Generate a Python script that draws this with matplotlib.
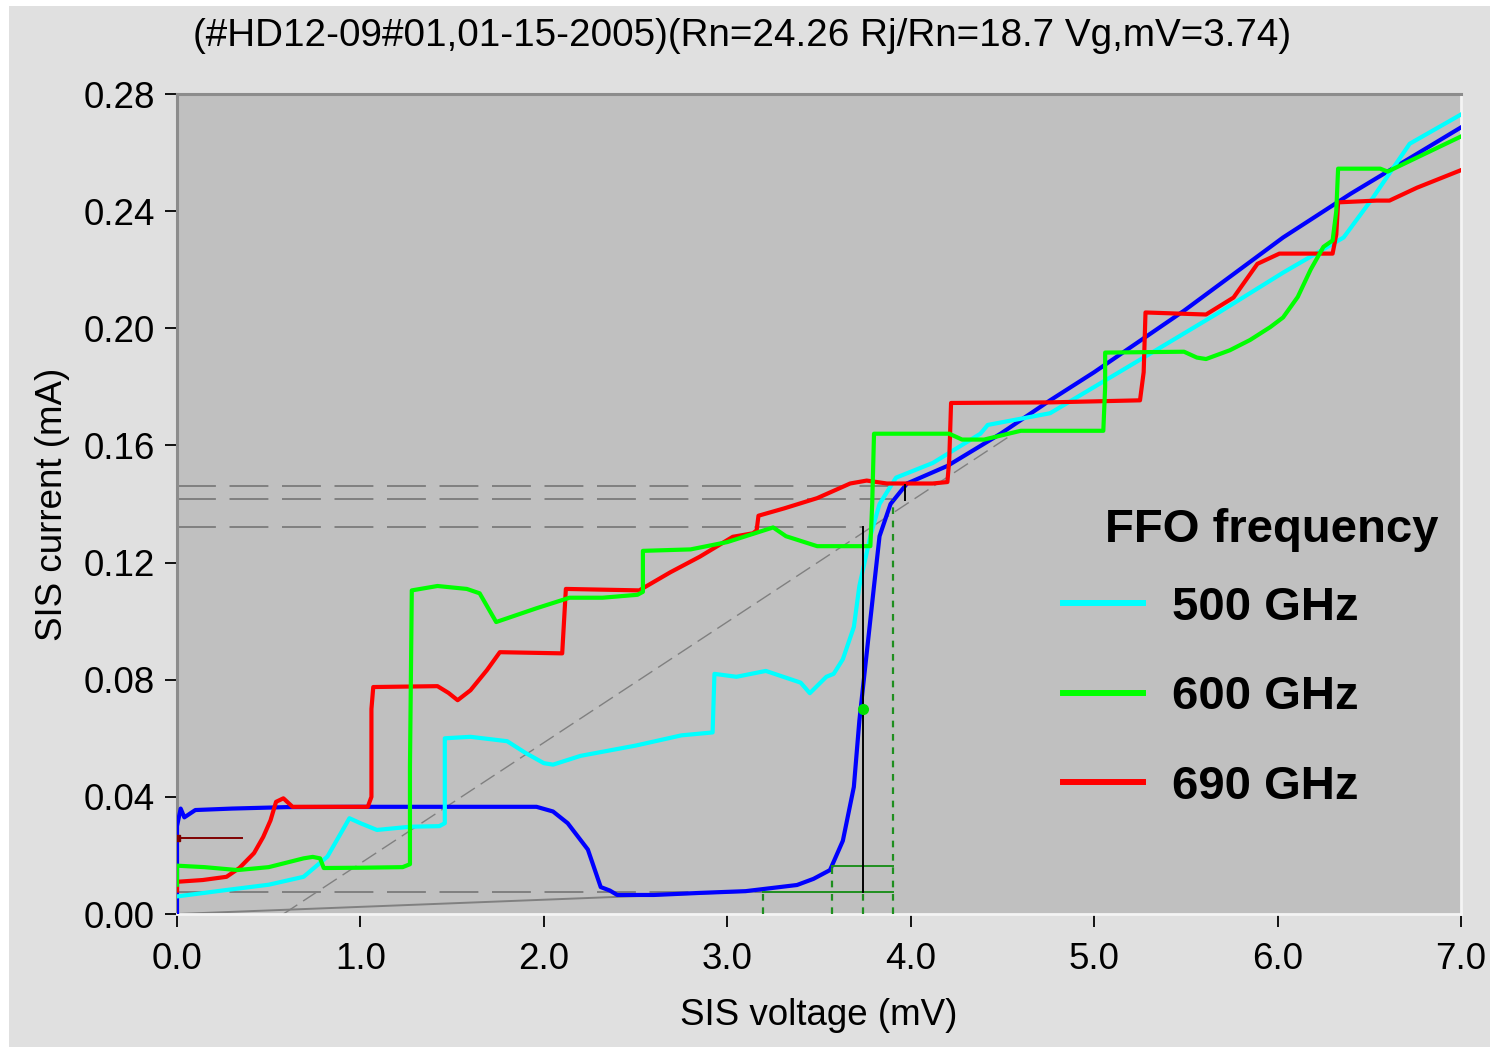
import matplotlib
matplotlib.use("Agg")
import matplotlib.pyplot as plt
from matplotlib.patches import Rectangle

plt.rcParams['font.family'] = ['Liberation Sans', 'DejaVu Sans']

# ---------------- data ----------------
title = "(#HD12-09#01,01-15-2005)(Rn=24.26 Rj/Rn=18.7 Vg,mV=3.74)"
xlabel = "SIS voltage (mV)"
ylabel = "SIS current (mA)"
legend_title = "FFO frequency"
series_labels = ["500 GHz", "600 GHz", "690 GHz"]
xticks = [0.0, 1.0, 2.0, 3.0, 4.0, 5.0, 6.0, 7.0]
yticks = [0.00, 0.04, 0.08, 0.12, 0.16, 0.20, 0.24, 0.28]

# unpumped IV curve (blue)
v_dc = [0.0, 0.0, 0.02, 0.04, 0.1, 0.3, 0.6, 1.0, 1.5, 1.96, 2.05, 2.13, 2.24, 2.31,
        2.36, 2.40, 2.6, 2.85, 3.1, 3.38, 3.47, 3.56, 3.63, 3.69, 3.72, 3.76, 3.80,
        3.83, 3.89, 3.98, 4.2, 4.49, 4.76, 5.0, 5.49, 6.03, 6.4, 7.0]
i_dc = [0.0, 0.030, 0.036, 0.033, 0.0355, 0.036, 0.0365, 0.0366, 0.0366, 0.0366, 0.035,
        0.031, 0.022, 0.0092, 0.008, 0.0065, 0.0065, 0.0072, 0.0078, 0.0099, 0.012,
        0.015, 0.025, 0.0434, 0.066, 0.089, 0.112, 0.129, 0.140, 0.147, 0.153, 0.164,
        0.1754, 0.185, 0.206, 0.231, 0.246, 0.2686]

# pumped, 500 GHz (cyan)
v_500 = [0.0, 0.27, 0.5, 0.69, 0.82, 0.94, 1.0, 1.09, 1.27, 1.43, 1.46, 1.46, 1.6, 1.8,
         1.9, 2.0, 2.05, 2.2, 2.5, 2.75, 2.92, 2.93, 3.05, 3.21, 3.40, 3.45, 3.54, 3.58,
         3.63, 3.69, 3.72, 3.78, 3.83, 3.92, 4.12, 4.38, 4.42, 4.76, 5.31, 5.67, 6.03,
         6.36, 6.52, 6.72, 7.0]
i_500 = [0.006, 0.0082, 0.010, 0.0127, 0.0196, 0.0327, 0.031, 0.0287, 0.0298, 0.030,
         0.031, 0.060, 0.0605, 0.059, 0.055, 0.0515, 0.051, 0.054, 0.0575, 0.061, 0.062,
         0.082, 0.081, 0.083, 0.079, 0.0754, 0.081, 0.082, 0.087, 0.098, 0.112, 0.129,
         0.140, 0.149, 0.154, 0.164, 0.167, 0.171, 0.1915, 0.205, 0.219, 0.231, 0.2446,
         0.263, 0.273]

# pumped, 600 GHz (green)
v_600 = [0.0, 0.0, 0.15, 0.33, 0.5, 0.69, 0.74, 0.78, 0.80, 1.0, 1.23, 1.27, 1.27, 1.28,
         1.42, 1.58, 1.65, 1.74, 1.96, 2.14, 2.32, 2.51, 2.54, 2.54, 2.8, 3.0, 3.2, 3.25,
         3.32, 3.49, 3.78, 3.79, 3.80, 4.21, 4.28, 4.4, 4.6, 5.05, 5.06, 5.06, 5.49,
         5.56, 5.61, 5.74, 5.85, 5.96, 6.03, 6.11, 6.18, 6.25, 6.30, 6.32, 6.33, 6.56,
         6.6, 6.7, 7.0]
i_600 = [0.010, 0.0165, 0.016, 0.015, 0.016, 0.019, 0.0195, 0.019, 0.0157, 0.0158, 0.016,
         0.017, 0.050, 0.1105, 0.112, 0.111, 0.1095, 0.0997, 0.1044, 0.108, 0.108, 0.109,
         0.110, 0.124, 0.1245, 0.127, 0.131, 0.132, 0.129, 0.1256, 0.1256, 0.140, 0.164,
         0.164, 0.162, 0.162, 0.165, 0.165, 0.180, 0.1917, 0.192, 0.190, 0.1895, 0.1925,
         0.196, 0.2004, 0.2037, 0.2107, 0.220, 0.2278, 0.230, 0.240, 0.2545, 0.2545,
         0.2535, 0.2565, 0.2655]

# pumped, 690 GHz (red)
v_690 = [0.0, 0.0, 0.14, 0.27, 0.34, 0.42, 0.47, 0.51, 0.54, 0.58, 0.63, 0.8, 1.04, 1.06,
         1.06, 1.07, 1.42, 1.48, 1.53, 1.60, 1.69, 1.76, 2.10, 2.11, 2.12, 2.52, 2.69,
         2.85, 3.03, 3.14, 3.16, 3.17, 3.31, 3.49, 3.67, 3.76, 3.87, 4.12, 4.20, 4.21,
         4.22, 4.76, 5.25, 5.27, 5.28, 5.61, 5.76, 5.89, 6.01, 6.30, 6.32, 6.33, 6.54,
         6.61, 6.76, 7.0]
i_690 = [0.008, 0.011, 0.0116, 0.0127, 0.0157, 0.0208, 0.0263, 0.032, 0.0383, 0.0395,
         0.0366, 0.0366, 0.0366, 0.040, 0.070, 0.0775, 0.0778, 0.0755, 0.073, 0.0764,
         0.0833, 0.0894, 0.089, 0.100, 0.111, 0.1105, 0.1167, 0.122, 0.1288, 0.130,
         0.131, 0.136, 0.1385, 0.142, 0.147, 0.148, 0.147, 0.147, 0.1475, 0.155, 0.1745,
         0.1747, 0.1754, 0.185, 0.2054, 0.2047, 0.2105, 0.222, 0.2255, 0.2255, 0.232,
         0.243, 0.2436, 0.2436, 0.248, 0.254]

# annotation constructions
hdash_levels = [0.1460, 0.1418, 0.1322, 0.0076]
hdash_ends = [3.90, 3.90, 3.74, 3.20]
bias_line_v = [0.0, 3.2]
bias_line_i = [0.0, 0.0078]
rn_line_v = [0.58, 4.55]
rn_line_i = [0.0, 0.1636]
gap_v = 3.74
gap_i = [0.0076, 0.1322]
mark_v = 3.97
mark_i = [0.1413, 0.1464]
vdash_pos = [3.195, 3.57, 3.74, 3.905]
vdash_top = [0.0076, 0.0164, 0.0076, 0.1413]
hgreen_levels = [0.0076, 0.0164]
hgreen_start = [3.195, 3.57]
hgreen_end = [3.905, 3.905]
dot_v, dot_i = 3.74, 0.070
dark_v = [0.0, 0.355]
dark_i = [0.026, 0.026]

# ---------------- figure ----------------
fig = plt.figure(figsize=(14.9, 10.47), dpi=100, facecolor='#e0e0e0')
fig.patches.append(Rectangle((0, 0), 9 / 1490, 1, transform=fig.transFigure,
                             facecolor='white', edgecolor='none', zorder=0))
fig.patches.append(Rectangle((0, 1 - 6 / 1047), 1, 6 / 1047, transform=fig.transFigure,
                             facecolor='white', edgecolor='none', zorder=0))

ax = fig.add_axes([177 / 1490, 1 - 914 / 1047, (1461 - 177) / 1490, (914 - 94) / 1047])
ax.set_facecolor('#c0c0c0')
ax.set_xlim(0, 7.0)
ax.set_ylim(0, 0.28)

gray = '#808080'
dgreen = '#1f8f1f'

# gray construction lines
for lvl, xe in zip(hdash_levels, hdash_ends):
    ax.plot([0, xe], [lvl, lvl], color=gray, lw=1.4, ls=(0, (20, 7)), zorder=1)
ax.plot(bias_line_v, bias_line_i, color=gray, lw=1.4, zorder=1)
ax.plot(rn_line_v, rn_line_i, color=gray, lw=1.0, ls=(0, (12, 5)), zorder=1)

# curves
ax.plot(v_dc, i_dc, color='#0000ff', lw=3, zorder=3)
l500, = ax.plot(v_500, i_500, color='#00ffff', lw=3, zorder=4)
l690, = ax.plot(v_690, i_690, color='#ff0000', lw=3, zorder=5)
l600, = ax.plot(v_600, i_600, color='#00ff00', lw=3, zorder=6)

# marker constructions
for xv, top in zip(vdash_pos, vdash_top):
    ax.plot([xv, xv], [0, top], color=dgreen, lw=1.6, ls=(0, (3, 3)), zorder=7)
for lvl, xs, xe in zip(hgreen_levels, hgreen_start, hgreen_end):
    ax.plot([xs, xe], [lvl, lvl], color=dgreen, lw=1.4, zorder=7)
ax.plot([gap_v, gap_v], gap_i, color='black', lw=1.4, zorder=8)
ax.plot([mark_v, mark_v], mark_i, color='black', lw=1.4, zorder=8)
ax.plot([dot_v], [dot_i], 'o', color='#00e000', ms=7, zorder=9)
ax.plot(dark_v, dark_i, color='#800000', lw=1.4, zorder=8)
ax.plot([dark_v[0]], [dark_i[0]], 's', color='#800000', ms=5, zorder=8)

# spines (sunken look)
for s in ['top', 'left']:
    ax.spines[s].set_color('#8c8c8c')
    ax.spines[s].set_linewidth(2.2)
for s in ['bottom', 'right']:
    ax.spines[s].set_color('#f4f4f4')
    ax.spines[s].set_linewidth(2.0)

ax.set_xticks(xticks)
ax.set_xticklabels([f"{t:.1f}" for t in xticks])
ax.set_yticks(yticks)
ax.set_yticklabels([f"{t:.2f}" for t in yticks])
ax.tick_params(axis='both', direction='out', length=9, width=1.3, color='black',
               labelsize=26.5, labelcolor='black')
ax.tick_params(axis='x', pad=11)
ax.tick_params(axis='y', pad=7)

ax.set_xlabel(xlabel, fontsize=26.5)
ax.set_ylabel(ylabel, fontsize=26.5)
ax.xaxis.set_label_coords(0.5, (914 - 998) / 820)
ax.yaxis.set_label_coords((70 - 177) / 1284, 0.5)

fig.text(742 / 1490, 1 - 36 / 1047, title, ha='center', va='center', fontsize=27.8)

# legend
ax.text((1105 - 177) / 1284, (914 - 542) / 820, legend_title, transform=ax.transAxes,
        ha='left', va='baseline', fontsize=34, fontweight='bold', zorder=10)
leg = ax.legend([l500, l600, l690], series_labels, loc='upper left',
                bbox_to_anchor=((1063 - 177) / 1284, (914 - 586) / 820),
                frameon=False, prop={'size': 34, 'weight': 'bold'},
                handlelength=1.7, handletextpad=0.61, labelspacing=0.96,
                borderpad=0, borderaxespad=0)
for ln in leg.get_lines():
    ln.set_linewidth(4.3)

fig.savefig('out.png', dpi=100, facecolor=fig.get_facecolor())
